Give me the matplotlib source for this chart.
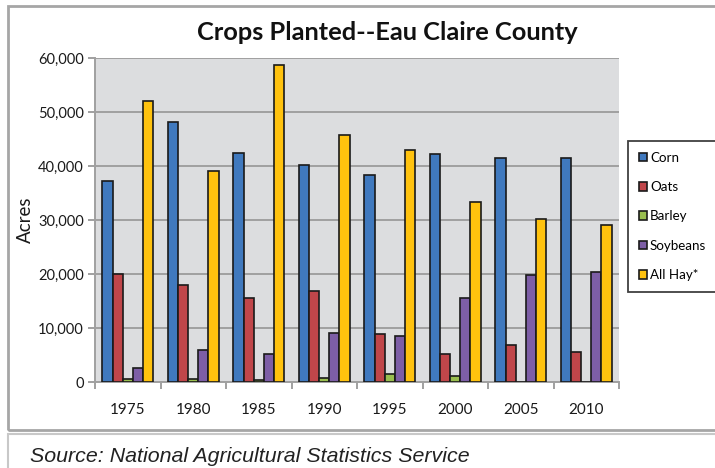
import matplotlib
matplotlib.use("Agg")
import matplotlib.pyplot as plt
from matplotlib.patches import Rectangle, Patch
from matplotlib.ticker import FuncFormatter, MultipleLocator
import numpy as np

plt.rcParams['font.family'] = ['Lato', 'DejaVu Sans']

years = ['1975', '1980', '1985', '1990', '1995', '2000', '2005', '2010']
corn = [37300, 48200, 42500, 40100, 38300, 42300, 41500, 41500]
oats = [20000, 18000, 15500, 16800, 8900, 5200, 6900, 5500]
barley = [550, 600, 350, 800, 1500, 1100, 0, 0]
soybeans = [2600, 6000, 5200, 9100, 8500, 15500, 19800, 20300]
all_hay = [52000, 39000, 58700, 45800, 43000, 33400, 30200, 29100]

series = [
    ('Corn', corn, '#4079BE'),
    ('Oats', oats, '#C0464A'),
    ('Barley', barley, '#99BE4F'),
    ('Soybeans', soybeans, '#7D5EA6'),
    ('All Hay*', all_hay, '#FFC20E'),
]

W, H = 715, 468
fig = plt.figure(figsize=(W / 100, H / 100), dpi=100)
fig.patch.set_facecolor('white')

# outer chart frame and source panel
frame_col = '#A6A6A6'
fig.add_artist(Rectangle((8 / W, 1 - 430 / H), 1.2, (430 - 6) / H,
                         transform=fig.transFigure, fill=False,
                         edgecolor=frame_col, linewidth=2))
fig.add_artist(Rectangle((8 / W, -0.2), 1.2, 0.2 + (1 - 434 / H),
                         transform=fig.transFigure, fill=False,
                         edgecolor='#C8C8C8', linewidth=1.5))

ax = fig.add_axes([95 / W, 86 / H, 524 / W, 324 / H])
ax.set_facecolor('#DCDDDF')

x = np.arange(len(years))
w = 0.155
for k, (name, vals, col) in enumerate(series):
    ax.bar(x + (k - 2) * w, vals, width=w, color=col, edgecolor='#1A1A1A',
           linewidth=1.2, label=name, zorder=3)

ax.set_xlim(-0.5, len(years) - 0.5)
ax.set_ylim(0, 60000)
ax.yaxis.set_major_locator(MultipleLocator(10000))
ax.yaxis.set_major_formatter(FuncFormatter(lambda v, p: f'{int(v):,}'))
ax.grid(axis='y', color='#A0A0A0', linewidth=1.4, zorder=1)
ax.set_axisbelow(True)

ax.set_xticks(np.arange(-0.5, len(years), 1.0))
ax.set_xticklabels([])
ax.set_xticks(x, minor=True)
ax.set_xticklabels(years, minor=True)
ax.tick_params(axis='x', which='major', length=5, width=1.4, color='#A0A0A0')
ax.tick_params(axis='x', which='minor', length=0, pad=15, labelsize=11,
               labelcolor='#1A1A1A')
ax.tick_params(axis='y', length=5, width=1.4, color='#A0A0A0', labelsize=10.5,
               labelcolor='#1A1A1A', pad=3)

for s in ['top', 'right']:
    ax.spines[s].set_visible(False)
for s in ['left', 'bottom']:
    ax.spines[s].set_color('#A0A0A0')
    ax.spines[s].set_linewidth(1.4)

ax.set_ylabel('Acres', fontsize=13.5, color='#1A1A1A', labelpad=3)

fig.text(387 / W, 1 - 32 / H, 'Crops Planted--Eau Claire County',
         ha='center', va='center', fontsize=18.3, fontweight='bold',
         color='#111111')

handles = [Patch(facecolor=c, edgecolor='#1A1A1A', linewidth=1.2)
           for _, _, c in series]
labels = [n for n, _, _ in series]
leg = fig.legend(handles, labels, loc='upper left',
                 bbox_to_anchor=(628 / W, 1 - 141 / H), borderaxespad=0,
                 fontsize=9.6, frameon=True, fancybox=False,
                 handlelength=0.65, handleheight=0.65, handletextpad=0.2,
                 labelspacing=1.3, borderpad=0.8)
leg.get_frame().set_edgecolor('#111111')
leg.get_frame().set_linewidth(1.3)

fig.text(30 / W, 1 - 457 / H, 'Source: National Agricultural Statistics Service',
         ha='left', va='center', fontsize=15.4, style='italic',
         family=['Liberation Sans', 'DejaVu Sans'], color='#222222')

fig.savefig('out.png', dpi=100)
